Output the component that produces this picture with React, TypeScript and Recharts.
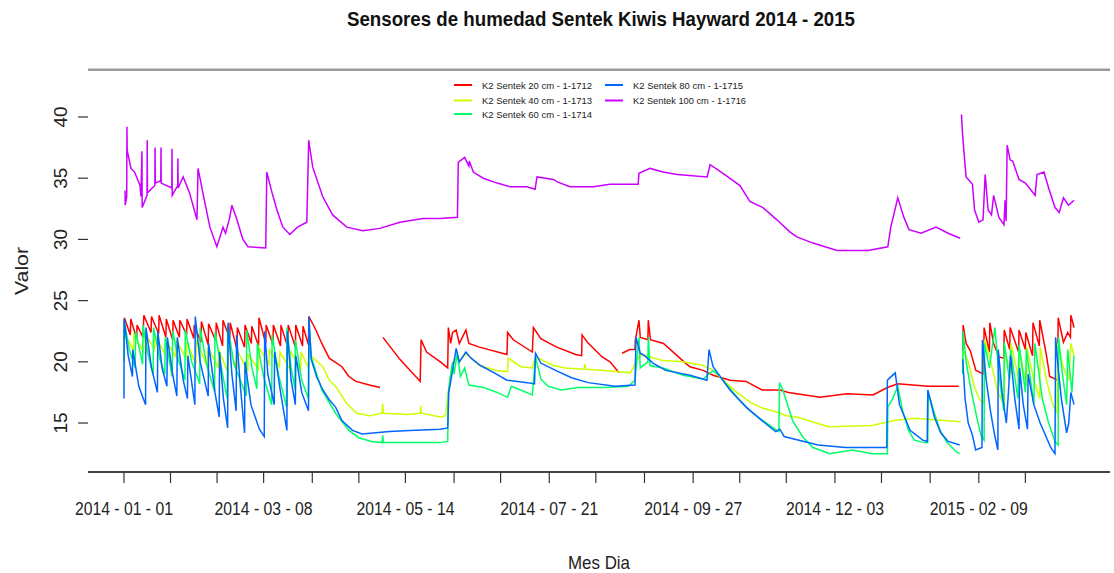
import React from 'react';
import { LineChart, Line, XAxis, YAxis, ReferenceLine } from 'recharts';

type P = [number, number | null];

const FONT = '"Liberation Sans", Arial, Helvetica, sans-serif';

const seriesNames = [
  'K2 Sentek 20 cm - 1-1712',
  'K2 Sentek 40 cm - 1-1713',
  'K2 Sentek 60 cm - 1-1714',
  'K2 Sentek 80 cm - 1-1715',
  'K2 Sentek 100 cm - 1-1716',
];
const seriesColors = ['#FF0000', '#CCFF00', '#00FF66', '#0066FF', '#CC00FF'];

const yTicks = [15, 20, 25, 30, 35, 40];
// day index from 2014-01-01
const xTickDays = [0, 22, 44, 66, 89, 111, 133, 156, 178, 201, 223, 246, 269, 291, 313, 336, 358, 381, 404, 426];
const xLabelDays = [0, 66, 133, 201, 269, 336, 404];
const xLabels = ['2014 - 01 - 01', '2014 - 03 - 08', '2014 - 05 - 14', '2014 - 07 - 21', '2014 - 09 - 27', '2014 - 12 - 03', '2015 - 02 - 09'];

const sensor20: P[] = [
  [0, 21.8], [0.2, 23.6], [3, 22.2], [3.2, 23.5], [6, 21.9], [6.2, 23.0], [9, 22.0], [9.4, 23.8], [12.8, 22.4], [13, 23.7],
  [16.4, 22.3], [16.6, 23.8], [19.8, 22.0], [20, 23.5], [23, 21.8], [23.2, 23.4], [26.2, 22.0], [26.4, 23.4], [29.6, 22.2], [29.8, 23.5],
  [33, 21.9], [33.2, 23.0], [36.4, 21.6], [36.6, 23.3], [39.8, 21.4], [40, 23.1], [43.4, 21.7], [43.6, 23.2], [46.6, 21.3], [46.8, 23.4],
  [50, 21.9], [50.2, 23.2], [53.4, 21.0], [53.6, 22.8], [57, 21.2], [57.2, 23.0], [60.2, 21.5], [60.4, 22.9], [63.6, 21.3], [63.8, 23.6],
  [67, 21.5], [67.2, 23.0], [70.4, 21.4], [70.6, 23.0], [74, 21.3], [74.2, 23.0], [77.4, 21.2], [77.6, 23.0], [81, 21.2], [81.2, 23.0],
  [84.4, 21.3], [84.6, 22.9], [87.2, 21.4], [87.4, 23.7], [90.7, 22.6], [93.5, 21.5], [97, 20.3], [103, 19.6], [106.3, 18.8], [109.6, 18.4],
  [116, 18.1], [121, 17.9], [121.5, null],
  [122.4, 22.0], [130.4, 20.2], [140, 18.4], [140.4, 21.8], [143, 20.8], [149.5, 20.0], [153, 19.5], [153.3, 22.8], [154.4, 21.5], [155.3, 22.4],
  [157, 22.6], [158.5, 21.5], [161.6, 22.6], [163, 21.5], [168, 21.2], [181, 20.6], [181.3, 22.4], [184, 21.8], [193, 20.8], [193.5, 22.8],
  [197, 21.9], [204.5, 21.2], [213.5, 20.6], [216.3, 20.5], [216.5, 22.2], [219, 21.6], [226, 20.4], [229.7, 20.0], [234, 19.1], [234.7, null],
  [235.4, 20.7], [239, 21.0], [241.5, 21.0], [241.7, 21.8], [243.4, 23.4], [244, 22.0], [247.6, 21.8], [247.8, 23.4], [248.8, 21.8], [255, 21.5],
  [264.7, 20.0], [267.5, 19.6], [273.7, 19.3], [278.4, 18.9], [286.4, 18.5], [294, 18.4], [301.5, 17.7], [310, 17.7], [314, 17.5], [329, 17.1],
  [341.8, 17.4], [354, 17.3], [360.8, 17.9], [365.7, 18.2], [380, 18.0], [394.5, 18.0], [395.5, null],
  [396.4, 20.8], [396.6, 23.0], [398, 21.5], [400, 20.9], [402.6, 19.3], [406.3, 19.0], [406.5, 22.8], [409, 20.8], [409.2, 23.2], [411, 21.5],
  [413.5, 20.4], [415.8, 20.3], [416, 22.6], [418.6, 21.0], [418.8, 22.8], [422.8, 20.8], [423, 22.6], [426, 21.0], [426.2, 22.4], [429.4, 20.5],
  [429.6, 23.2], [432.6, 21.3], [432.8, 23.4], [436, 20.5], [437.5, 18.8], [441.3, 18.5], [441.5, 23.6], [444, 21.6], [446, 22.4], [447.3, 22.0],
  [447.5, 23.8], [449, 22.8],
];

const sensor40: P[] = [
  [0, 20.3], [0.2, 22.3], [4.5, 21.0], [4.7, 22.2], [9.4, 20.8], [9.6, 22.4], [14.5, 21.0], [14.7, 22.2], [19.5, 20.6], [19.7, 21.8],
  [24.5, 20.4], [24.7, 21.8], [29.5, 20.2], [29.7, 21.6], [34, 19.8], [34.2, 21.8], [39.5, 19.6], [39.7, 21.2], [44.5, 19.5], [44.7, 21.0],
  [49, 19.2], [49.2, 21.3], [53.5, 19.4], [53.7, 20.9], [58.5, 19.2], [58.7, 20.6], [63.5, 19.4], [63.7, 21.2], [68.5, 19.8], [68.7, 21.0],
  [73.5, 19.6], [73.7, 20.8], [78.5, 19.4], [78.7, 20.9], [83.5, 19.3], [83.7, 20.8], [87.2, 19.5], [87.4, 21.2], [88.8, 20.4], [94, 19.6],
  [97, 18.5], [100, 18.0], [105.3, 16.6], [110, 15.8], [116, 15.6], [122, 15.8], [122.3, 16.6], [122.6, 15.8], [134, 15.7], [140, 15.8],
  [140.2, 16.4], [140.5, 15.8], [149.5, 15.5], [152, 15.6], [153.3, 17.5], [155, 19.6], [157, 20.4], [158.5, 20.0], [161.6, 20.7], [168, 19.7],
  [176, 19.3], [181.3, 19.2], [181.6, 20.3], [187.5, 19.6], [193, 19.5], [194.5, 20.4], [203, 19.7], [208.6, 19.5], [217.4, 19.4], [217.8, 19.8],
  [218.4, 19.4], [227, 19.3], [239.4, 19.1], [241.7, 19.9], [244, 20.6], [248.6, 20.4], [254.8, 20.1], [264.2, 20.0], [273.7, 19.7], [278.4, 19.3],
  [283.1, 18.5], [289.7, 17.5], [295.8, 16.7], [302, 16.2], [308.6, 15.9], [313, 15.6], [318, 15.5], [333, 14.7], [353.5, 14.8], [364, 15.2],
  [373.5, 15.4], [395.5, 15.1], [396, null],
  [396.4, 19.5], [396.6, 21.0], [399, 20.0], [402, 17.9], [404.5, 16.9], [406.5, 16.6], [406.7, 21.8], [409, 20.5], [411, 19.0], [413, 17.5],
  [416, 16.5], [416.2, 21.0], [419, 19.0], [419.2, 21.5], [423, 18.5], [423.2, 21.0], [426.5, 18.0], [426.7, 21.2], [430, 18.5], [432.8, 17.0],
  [433, 21.2], [436, 18.5], [439, 16.5], [441, 15.8], [441.3, 21.5], [444, 19.5], [446.5, 18.5], [447.5, 21.5], [449, 20.5],
];

const sensor60: P[] = [
  [0, 20.0], [0.1, 23.4], [2.5, 21.0], [5.3, 19.5], [5.5, 22.5], [8.8, 19.8], [9, 23.0], [11.5, 20.5], [13.8, 19.0], [14, 22.8],
  [17, 20.2], [19.3, 19.0], [19.5, 22.0], [22.8, 18.8], [23, 22.5], [26, 20.0], [28.8, 18.5], [29, 22.6], [32, 20.0], [35.8, 18.2],
  [36, 22.8], [39, 19.8], [42.8, 17.6], [43, 22.4], [46, 19.5], [48.8, 17.0], [49, 23.0], [52, 19.8], [55, 18.5], [57.8, 17.2],
  [58, 22.6], [60.5, 19.5], [62.8, 17.8], [63, 21.5], [66, 18.8], [69.8, 16.5], [70, 22.2], [73, 19.0], [76.8, 16.3], [77, 22.8],
  [79, 19.5], [80.8, 17.8], [81, 21.8], [84, 18.5], [87.2, 17.0], [87.4, 23.4], [88.5, 20.4], [93.5, 17.7], [100, 15.8], [106.3, 14.4],
  [111, 13.8], [117, 13.5], [122, 13.4], [122.3, 14.0], [122.6, 13.4], [149.5, 13.4], [153, 13.5], [153.3, 17.5], [154.4, 19.0], [155.3, 20.0],
  [156, 19.0], [157.5, 20.7], [159, 18.8], [161, 19.5], [163, 18.1], [170, 17.9], [176.4, 17.5], [181.3, 17.1], [183.1, 18.0], [186, 17.8],
  [193, 17.3], [194.5, 20.4], [197, 18.6], [200.5, 18.0], [206.6, 17.7], [214.6, 17.9], [228, 17.9], [238.3, 18.0], [241.5, 18.5], [243.4, 22.0],
  [244, 19.5], [247.6, 20.0], [247.8, 22.0], [248.6, 19.7], [254.8, 19.5], [264.2, 18.9], [273.7, 18.6], [278.4, 19.3], [281.7, 18.8], [289.7, 17.1],
  [295.8, 16.0], [302, 15.2], [308.6, 14.4], [309.5, 14.3], [309.8, 18.3], [311.4, 17.7], [316, 15.2], [320.6, 13.9], [325.6, 13.0], [333.5, 12.5],
  [344.3, 12.8], [353.8, 12.5], [360.8, 12.5], [361, 16.3], [363.3, 17.0], [365.7, 18.0], [368, 16.0], [370.8, 14.4], [373.5, 13.6], [378.2, 13.4],
  [379.9, 13.4], [380.1, 17.5], [383, 15.8], [385.7, 14.4], [389, 13.4], [393.7, 12.6], [395, 12.5], [395.5, null],
  [396.4, 19.0], [396.6, 22.5], [398, 20.0], [400, 18.0], [403, 15.5], [405, 14.0], [406.5, 13.6], [406.7, 21.5], [409, 19.5], [411.6, 22.8],
  [413.5, 19.0], [415.8, 16.0], [416, 21.6], [418.5, 18.5], [419, 21.0], [422.5, 17.0], [423, 21.4], [426, 17.5], [426.5, 21.0], [430, 16.5],
  [430.5, 21.5], [434, 17.0], [437, 15.0], [440, 13.5], [441.5, 13.2], [441.7, 22.0], [443.5, 19.0], [445.5, 16.5], [446, 21.0], [448, 17.5],
  [449, 20.5],
];

const sensor80: P[] = [
  [0, 17.0], [0.1, 23.5], [2, 20.5], [4, 18.8], [4.2, 21.0], [7, 18.0], [10.2, 16.5], [10.4, 22.8], [13, 19.5], [15.8, 17.5],
  [16, 22.5], [18, 19.5], [20.3, 18.0], [20.5, 22.0], [23, 19.0], [25, 17.2], [25.2, 22.0], [28, 18.5], [30, 17.0], [30.2, 20.5],
  [33.5, 16.5], [33.7, 23.7], [36, 20.0], [39.8, 17.2], [40, 21.5], [43, 17.5], [45, 15.5], [45.2, 20.8], [47, 17.0], [49, 14.6],
  [49.2, 23.2], [51, 19.0], [53, 16.0], [53.2, 22.2], [55, 18.0], [57, 14.2], [57.2, 20.0], [60, 16.5], [62, 15.5], [64, 14.5],
  [66.3, 13.9], [66.5, 22.5], [68, 19.0], [71, 16.5], [71.2, 20.8], [74, 17.5], [77, 14.4], [77.2, 22.5], [79, 18.5], [81, 16.5],
  [81.2, 20.5], [84, 17.5], [87.2, 16.0], [87.4, 23.7], [88.5, 20.2], [91, 18.8], [94, 17.7], [97, 16.9], [100, 16.3], [103, 15.2],
  [108, 14.4], [112.5, 14.1], [125.5, 14.3], [135, 14.4], [149.5, 14.5], [153, 14.6], [153.5, 17.5], [155, 19.0], [157, 21.1], [158.5, 20.0],
  [161.6, 20.8], [164, 20.3], [168.5, 19.7], [175, 19.1], [181, 18.5], [190.5, 18.3], [194, 18.2], [194.5, 20.7], [197, 19.9], [204, 19.3],
  [211.5, 18.7], [219.4, 18.3], [232, 18.0], [241.5, 18.1], [242, 22.0], [244, 20.7], [246, 20.5], [250, 19.9], [256, 19.3], [267.5, 18.9],
  [275.5, 18.5], [276.5, 21.0], [278.4, 19.6], [286.4, 17.7], [294, 16.3], [301.5, 15.2], [308, 14.3], [310, 14.5], [312, 13.9], [319, 13.6],
  [328, 13.2], [341, 13.0], [358, 13.0], [360.5, 13.0], [360.8, 18.5], [364.5, 19.1], [366.5, 16.5], [371.5, 14.4], [377.5, 13.6], [379.6, 13.5],
  [379.9, 17.7], [383, 15.5], [386, 14.2], [389.5, 13.5], [395, 13.2], [395.5, null],
  [396.4, 20.2], [397.5, 17.0], [399, 15.0], [401, 14.0], [402.5, 12.8], [405.5, 13.0], [405.7, 21.8], [407.5, 18.5], [409.5, 16.0], [411.5, 14.0],
  [413, 12.8], [413.2, 21.0], [415, 17.5], [417, 15.0], [418, 17.5], [419, 20.5], [421, 17.0], [423, 14.5], [423.3, 19.5], [425, 16.5],
  [427, 14.5], [427.3, 19.0], [430, 16.5], [433, 15.0], [436, 13.8], [438, 13.0], [439.5, 12.6], [440, 12.5], [440.3, 22.0], [441.5, 19.5],
  [443, 17.0], [445.5, 14.2], [446.5, 15.0], [447.5, 17.5], [449, 16.5],
];

const sensor100: P[] = [
  [0.5, 34.0], [0.6, 32.8], [1.3, 33.5], [1.4, 39.2], [1.5, 37.3], [3.3, 35.8], [5, 35.5], [7.6, 34.4], [8, 33.5], [8.5, 37.2],
  [8.6, 32.6], [10.9, 33.6], [11, 38.1], [11.1, 33.8], [14.6, 34.4], [14.7, 37.5], [14.8, 34.6], [17.4, 34.8], [17.5, 37.5], [17.6, 34.6],
  [22.6, 34.2], [22.7, 37.4], [22.8, 33.6], [25.4, 34.4], [25.5, 36.6], [25.6, 34.2], [28, 35.1], [31, 33.8], [34.5, 31.6], [35, 35.8],
  [37.3, 33.8], [40.6, 31.0], [43.9, 29.4], [46.8, 31.0], [48, 30.5], [50, 31.8], [51, 32.8], [53.4, 31.6], [56.2, 30.0], [58.6, 29.4],
  [67, 29.3], [67.5, 35.5], [70, 33.8], [72.3, 32.4], [75.1, 31.0], [78.4, 30.4], [82, 31.0], [86.4, 31.4], [87.3, 38.1], [89.2, 35.9],
  [93.9, 33.5], [98.6, 32.0], [105.3, 31.0], [112.8, 30.7], [120.9, 30.9], [130.4, 31.4], [141.3, 31.7], [149.3, 31.7], [157.6, 31.8], [158, 36.3],
  [161, 36.7], [163, 36.0], [163.2, 36.4], [165.1, 35.5], [169.8, 35.0], [176.4, 34.6], [182.5, 34.3], [190.5, 34.3], [194.3, 34.1], [195.2, 35.1],
  [203, 34.9], [204.7, 34.7], [210.8, 34.3], [221.7, 34.3], [229.7, 34.5], [243, 34.5], [243.4, 35.4], [248.6, 35.8], [254.8, 35.5], [261.4, 35.3],
  [275.6, 35.1], [277, 36.1], [283.1, 35.4], [291.1, 34.4], [295.8, 33.1], [302, 32.6], [308.6, 31.6], [314.8, 30.6], [318, 30.2], [325.6, 29.7],
  [337, 29.1], [351.6, 29.1], [361, 29.4], [362.4, 31.0], [365.7, 33.4], [368.6, 31.8], [371, 30.8], [376.7, 30.5], [383.8, 31.0], [389.5, 30.5],
  [395.2, 30.1], [395.6, null],
  [395.8, 40.2], [396.2, 38.9], [397, 37.1], [398, 35.1], [401, 34.5], [402, 32.4], [404, 31.4], [406, 31.6], [407, 35.3], [408.4, 32.4],
  [410, 32.0], [411, 33.6], [413.5, 31.8], [415.9, 31.2], [416.4, 33.2], [416.9, 31.5], [417.4, 37.7], [418.8, 36.5], [420, 36.4], [423, 34.9],
  [426, 34.6], [430.6, 33.6], [431.5, 35.3], [434.8, 35.5], [437, 34.2], [440, 32.6], [442, 32.2], [444, 33.4], [446.4, 32.8], [449, 33.2],
];

const allSeries: P[][] = [sensor20, sensor40, sensor60, sensor80, sensor100];
const toRows = (pts: P[]) => pts.map(([d, v]) => ({ d, v }));

const XTick = (props: any) => {
  const { x, y, payload } = props;
  const i = xLabelDays.indexOf(payload.value);
  if (i < 0) return <g />;
  return (
    <text x={x} y={y + 30} textAnchor="middle" fontSize={19} fill="#222" fontFamily={FONT}
      textLength={98} lengthAdjust="spacingAndGlyphs">{xLabels[i]}</text>
  );
};

const YTick = (props: any) => {
  const { x, y, payload } = props;
  const bx = x - 9;
  return (
    <text x={bx} y={y} transform={`rotate(-90, ${bx}, ${y})`} textAnchor="middle" fontSize={19}
      fill="#222" fontFamily={FONT}>{payload.value}</text>
  );
};

export default function App() {
  const legendCols = [
    { lx: 454, tx: 482, rows: [0, 1, 2] },
    { lx: 605, tx: 633, rows: [3, 4] },
  ];
  const rowY = [85, 100.5, 114];
  return (
    <div style={{ position: 'absolute', left: 0, top: 0, width: 1114, height: 573, background: '#fff' }}>
      <LineChart width={1114} height={573} margin={{ top: 69, right: 4, left: 28, bottom: 41 }}>
        <XAxis dataKey="d" type="number" domain={[-17, 466]} allowDataOverflow ticks={xTickDays} interval={0}
          height={60} tickSize={11} tick={<XTick />} axisLine={{ stroke: '#444', strokeWidth: 2 }}
          tickLine={{ stroke: '#333', strokeWidth: 1.2 }} />
        <YAxis type="number" domain={[11, 43.92]} allowDataOverflow ticks={yTicks} interval={0} width={60}
          tickSize={10} tick={<YTick />} axisLine={false} tickLine={{ stroke: '#333', strokeWidth: 1.2 }} />
        <ReferenceLine y={43.85} stroke="#999" strokeWidth={2.5} />
        {allSeries.map((s, i) => (
          <Line key={i} data={toRows(s)} dataKey="v" stroke={seriesColors[i]} strokeWidth={1.5} dot={false}
            isAnimationActive={false} connectNulls={false} />
        ))}
      </LineChart>
      <svg width={1114} height={573} style={{ position: 'absolute', left: 0, top: 0, pointerEvents: 'none' }}>
        <text x={601} y={26} textAnchor="middle" fontSize={20} fontWeight="bold" fill="#111" fontFamily={FONT}
          textLength={508} lengthAdjust="spacingAndGlyphs">Sensores de humedad Sentek Kiwis Hayward 2014 - 2015</text>
        <text x={599} y={569} textAnchor="middle" fontSize={19} fill="#222" fontFamily={FONT}
          textLength={62} lengthAdjust="spacingAndGlyphs">Mes Dia</text>
        <text x={28} y={271} transform="rotate(-90, 28, 271)" textAnchor="middle" fontSize={18} fill="#222"
          fontFamily={FONT} textLength={48} lengthAdjust="spacingAndGlyphs">Valor</text>
        {legendCols.map((c, ci) => c.rows.map((si, ri) => (
          <g key={`${ci}-${si}`}>
            <line x1={c.lx} x2={c.lx + 18} y1={rowY[ri]} y2={rowY[ri]} stroke={seriesColors[si]} strokeWidth={2} />
            <text x={c.tx} y={rowY[ri] + 3.5} fontSize={9.5} fill="#222" fontFamily={FONT}
              textLength={si === 4 ? 113 : 110} lengthAdjust="spacingAndGlyphs">{seriesNames[si]}</text>
          </g>
        )))}
      </svg>
    </div>
  );
}
